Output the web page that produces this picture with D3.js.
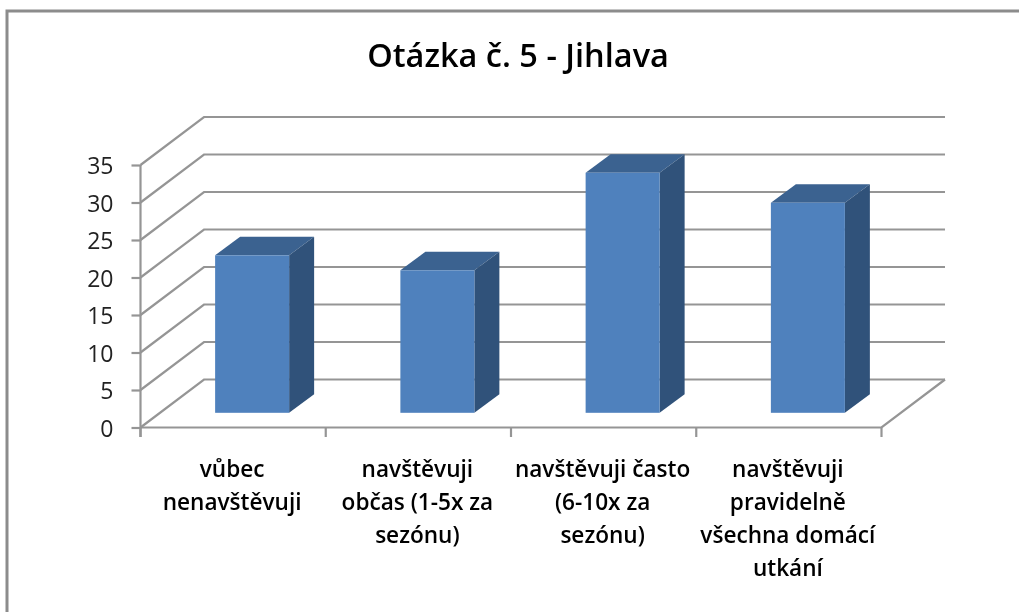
<!DOCTYPE html>
<html>
<head>
<meta charset="utf-8">
<title>Otázka č. 5 - Jihlava</title>
<script src="https://cdn.jsdelivr.net/npm/d3@7"></script>
<style>
html, body { margin: 0; padding: 0; background: #fff; }
/* the reference is a slightly soft upscaled screenshot */
svg { display: block; filter: blur(0.45px); }
text { font-family: "Open Sans", Lato, sans-serif; fill: #000; }
.domain { display: none; }
</style>
</head>
<body>
<div id="chart"></div>
<script>
var categories = ["vůbec nenavštěvuji", "navštěvuji občas (1-5x za sezónu)", "navštěvuji často (6-10x za sezónu)", "navštěvuji pravidelně všechna domácí utkání"];
var categoryLines = [
  ["vůbec", "nenavštěvuji"],
  ["navštěvuji", "občas (1-5x za", "sezónu)"],
  ["navštěvuji často", "(6-10x za", "sezónu)"],
  ["navštěvuji", "pravidelně", "všechna domácí", "utkání"]
];
var values = [21, 19, 32, 28];
var yTicks = [0, 5, 10, 15, 20, 25, 30, 35];

var width = 1019, height = 612;
var gridColor = "#959595";

// front plane of the fake 3d box
var x = d3.scaleBand().domain(categories).range([140.5, 881.5]);
var y = d3.scaleLinear().domain([0, 35]).range([427.5, 165]);

// how far the back wall sits from the front plane
var wallDx = 63.5, wallDy = -48;
// bars stand part way into the floor
var barDx = 19, barDy = -14.7, barW = 74, barDepthX = 25, barDepthY = -18.5;

var svg = d3.select("#chart").append("svg")
    .attr("width", width)
    .attr("height", height);

// outer frame, only top and left are in the picture
svg.append("path")
    .attr("d", d3.line()([[7, 612], [7, 11], [1019, 11]]))
    .attr("fill", "none")
    .attr("stroke", "#8c8c8c")
    .attr("stroke-width", 3);

svg.append("text")
    .attr("x", 518)
    .attr("y", 67)
    .attr("text-anchor", "middle")
    .style("font-size", "32.5px")
    .style("font-weight", 600)
    .text("Otázka č. 5 - Jihlava");

// walls: diagonal on the left side, then horizontal on the back
var grid = svg.append("g")
    .attr("fill", "none")
    .attr("stroke", gridColor)
    .attr("stroke-width", 2.2);

grid.selectAll("path.wall")
    .data(yTicks)
    .enter()
    .append("path")
    .attr("class", "wall")
    .attr("d", function (d) {
      return d3.line()([
        [x.range()[0], y(d)],
        [x.range()[0] + wallDx, y(d) + wallDy],
        [x.range()[1] + wallDx, y(d) + wallDy]
      ]);
    });

// floor edge on the right and along the front
grid.append("path")
    .attr("d", d3.line()([
      [x.range()[0], y(0)],
      [x.range()[1], y(0)],
      [x.range()[1] + wallDx, y(0) + wallDy]
    ]));

// axes
var yAxis = svg.append("g")
    .attr("transform", "translate(" + x.range()[0] + ",0)")
    .call(d3.axisLeft(y).tickValues(yTicks).tickSize(9).tickPadding(18));
yAxis.selectAll("line").attr("stroke", gridColor).attr("stroke-width", 2.2);
yAxis.selectAll("text")
    .attr("dy", "0.39em")
    .style("font-size", "23px")
    .style("font-family", "'Open Sans', sans-serif")
    .style("fill", "#222");

svg.append("line")
    .attr("x1", x.range()[0]).attr("x2", x.range()[0])
    .attr("y1", y(35)).attr("y2", 437)
    .attr("stroke", gridColor)
    .attr("stroke-width", 2.2);

var xTickPos = categories.map(function (c) { return x(c); }).concat(x.range()[1]);
svg.selectAll("line.xtick")
    .data(xTickPos)
    .enter()
    .append("line")
    .attr("class", "xtick")
    .attr("x1", function (d) { return d; })
    .attr("x2", function (d) { return d; })
    .attr("y1", y(0))
    .attr("y2", 437)
    .attr("stroke", gridColor)
    .attr("stroke-width", 2.2);

// bars
var bars = svg.selectAll("g.bar")
    .data(categories)
    .enter()
    .append("g")
    .attr("class", "bar");

function barLeft(c) { return x(c) + (x.bandwidth() - barW) / 2 + barDx; }
function barTop(c, i) { return y(values[i]) + barDy; }
var barBottom = y(0) + barDy;

bars.append("path")
    .attr("fill", "#3b6290")
    .attr("d", function (c, i) {
      var l = barLeft(c), t = barTop(c, i);
      return d3.line()([[l, t], [l + barW, t], [l + barW + barDepthX, t + barDepthY], [l + barDepthX, t + barDepthY]]) + "Z";
    });

bars.append("path")
    .attr("fill", "#30527a")
    .attr("d", function (c, i) {
      var r = barLeft(c) + barW, t = barTop(c, i);
      return d3.line()([[r, t], [r + barDepthX, t + barDepthY], [r + barDepthX, barBottom + barDepthY], [r, barBottom]]) + "Z";
    });

bars.append("rect")
    .attr("fill", "#4f81bd")
    .attr("x", barLeft)
    .attr("y", barTop)
    .attr("width", barW)
    .attr("height", function (c, i) { return barBottom - barTop(c, i); });

// category labels
svg.selectAll("text.cat")
    .data(categories)
    .enter()
    .append("text")
    .attr("class", "cat")
    .attr("text-anchor", "middle")
    .style("font-size", "22.6px")
    .style("font-weight", 600)
    .each(function (c, i) {
      d3.select(this).selectAll("tspan")
        .data(categoryLines[i])
        .enter()
        .append("tspan")
        .attr("x", x(c) + x.bandwidth() / 2 - 1)
        .attr("y", function (d, j) { return 477 + j * 33; })
        .text(function (d) { return d; });
    });
</script>
</body>
</html>
